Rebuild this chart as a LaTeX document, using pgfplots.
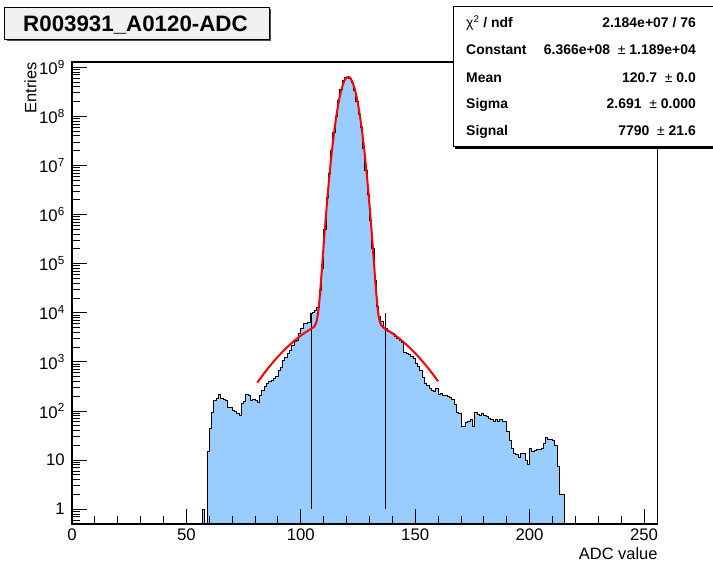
\documentclass[border=0pt]{standalone}
\usepackage{fontspec}
\setmainfont{Liberation Sans}
\usepackage{pgfplots}
\pgfplotsset{compat=1.18}
\definecolor{histfill}{RGB}{153,204,255}
\definecolor{titlefill}{RGB}{240,240,240}
\begin{document}
\begin{tikzpicture}[x=1bp,y=1bp]
\useasboundingbox (-72,-44) rectangle (641,524);
\begin{axis}[
  at={(0,0)}, anchor=south west,
  scale only axis, width=585.7bp, height=462bp,
  xmin=0, xmax=256, ymin=0.5, ymax=1.28e9,
  ymode=log, log origin y=infty,
  axis on top,
  axis line style={line width=1.3bp},
  tick pos=left, tick align=inside,
  major tick length=15bp, minor tick length=8bp,
  tick style={black, line width=0.9bp},
  xtick={0,50,100,150,200,250}, xticklabels={0,50,100,150,200,250},
  minor x tick num=4,
  ytick={1,10,100,1000,1e4,1e5,1e6,1e7,1e8,1e9},
  yticklabels={1,10,10\textsuperscript{2},10\textsuperscript{3},10\textsuperscript{4},10\textsuperscript{5},10\textsuperscript{6},10\textsuperscript{7},10\textsuperscript{8},10\textsuperscript{9}},
  minor ytick={0.6,0.7,0.8,0.9,2,3,4,5,6,7,8,9,20,30,40,50,60,70,80,90,200,300,400,500,600,700,800,900,2000,3000,4000,5000,6000,7000,8000,9000,2e4,3e4,4e4,5e4,6e4,7e4,8e4,9e4,2e5,3e5,4e5,5e5,6e5,7e5,8e5,9e5,2e6,3e6,4e6,5e6,6e6,7e6,8e6,9e6,2e7,3e7,4e7,5e7,6e7,7e7,8e7,9e7,2e8,3e8,4e8,5e8,6e8,7e8,8e8,9e8},
  tick label style={font=\fontsize{16.8}{18}\selectfont, inner sep=0pt},
  xticklabel style={yshift=-5bp}, yticklabel style={xshift=-7bp},
  xlabel={ADC value}, ylabel={Entries},
  label style={font=\fontsize{16.5}{19}\selectfont, inner sep=0pt},
  xlabel style={at={(axis description cs:1,-0.0498)}, anchor=north east},
  ylabel style={at={(axis description cs:-0.0815,1)}, anchor=north east},
]
\addplot[const plot, fill=histfill, draw=black, line width=0.8bp] coordinates {
(56,0.5) (57,1) (58,0.5) (59,15) (60,44) (61,94) (62,167) (63,180) (64,220) (65,180) (66,172) (67,161) (68,118) (69,118) (70,101) (71,97) (72,89) (73,80) (74,142) (75,155) (76,220) (77,212) (78,167) (79,175) (80,161) (81,150) (82,204) (83,266) (84,316) (85,372) (86,400) (87,427) (88,457) (89,500) (90,676) (91,776) (92,1070) (93,1259) (94,1514) (95,1738) (96,2188) (97,2570) (98,2754) (99,3800) (100,4786) (101,6026) (102,6166) (103,6457) (104,9550) (105,10000) (106,11220) (107,12600) (108,28000) (109,80000) (110,5.1e5) (111,2.24e6) (112,6.8e6) (113,2.0e7) (114,4.7e7) (115,1.02e8) (116,2.1e8) (117,3.6e8) (118,5.4e8) (119,6.2e8) (120,6.3e8) (121,5.9e8) (122,5.0e8) (123,3.4e8) (124,2.04e8) (125,1.12e8) (126,6.0e7) (127,2.2e7) (128,7.9e6) (129,2.6e6) (130,7.6e5) (131,2.0e5) (132,4.6e4) (133,1.32e4) (134,8500) (135,6600) (136,5100) (137,4800) (138,4270) (139,3980) (140,3800) (141,3310) (142,2950) (143,2750) (144,2450) (145,1585) (146,1510) (147,1410) (148,1320) (149,1175) (150,933) (151,794) (152,661) (153,479) (154,372) (155,339) (156,288) (157,263) (158,245) (159,288) (160,219) (161,229) (162,209) (163,204) (164,200) (165,191) (166,174) (167,138) (168,95) (169,89) (170,49) (171,49) (172,58) (173,60) (174,68) (175,49) (176,95) (177,87) (178,83) (179,91) (180,83) (181,76) (182,71) (183,68) (184,60) (185,66) (186,60) (187,68) (188,60) (189,60) (190,38) (191,25) (192,17) (193,14) (194,13) (195,11.5) (196,13.5) (197,13.5) (198,10) (199,8) (200,17) (201,15) (202,15.5) (203,16.6) (204,16.6) (205,17.4) (206,22) (207,29) (208,27) (209,26) (210,25) (211,19.5) (212,7.6) (213,2) (214,2) (215,0.5)
} \closedcycle;
\addplot[black, line width=0.8bp] coordinates {(104.55,1) (104.55,1e4)};
\addplot[black, line width=0.8bp] coordinates {(136.85,1) (136.85,1e4)};
\addplot[red, line width=2bp, line join=round] coordinates {
(81,379) (82,440) (84,588) (86,773) (88,1002) (90,1278) (92,1605) (94,1985) (96,2417) (98,2900) (100,3424) (102,3983) (104,4563) (105,4883) (105.5,5075) (106,5357) (106.5,5862) (107,6932) (107.5,9370) (108,14985) (108.5,27750) (109,56000) (109.5,116300) (110,241000) (110.5,489400) (111,966700) (111.5,1.8438e6) (112,3.421e6) (112.5,6.133e6) (113,1.0614e7) (113.5,1.7752e7) (114,2.869e7) (114.5,4.479e7) (115,6.753e7) (115.5,9.840e7) (116,1.3848e8) (116.5,1.8830e8) (117,2.4741e8) (117.5,3.140e8) (118,3.848e8) (118.5,4.557e8) (119,5.213e8) (119.5,5.764e8) (120,6.154e8) (120.5,6.348e8) (120.7,6.366e8) (121,6.326e8) (121.5,6.090e8) (122,5.664e8) (122.5,5.089e8) (123,4.418e8) (123.5,3.704e8) (124,3.001e8) (124.5,2.349e8) (125,1.7756e8) (125.5,1.2970e8) (126,9.153e7) (126.5,6.237e7) (127,4.108e7) (127.5,2.614e7) (128,1.6065e7) (128.5,9.537e6) (129,5.470e6) (129.5,3.031e6) (130,1.629e6) (130.5,845400) (131,425600) (131.5,208600) (132,100450) (132.5,48500) (133,24350) (133.5,13480) (134,8707) (134.5,6646) (135,5732) (136,5032) (137,4680) (138,4387) (140,3813) (142,3263) (144,2750) (146,2282) (148,1865) (150,1501) (152,1190) (154,928.6) (156,713.8) (158,540.1) (160,402.6)
};
\end{axis}
% title box
\fill[black!70] (-65,482.7) rectangle (199,514.7);
\draw[line width=1bp, fill=titlefill] (-67,484.7) rectangle (197,516.7);
\node[font=\bfseries\fontsize{22.4}{24}\selectfont, inner sep=0pt, anchor=base] at (63.5,492.1) {R003931\_A0120-ADC};
% stats box
\fill[black] (383,374.5) rectangle (660,377);
\draw[line width=1bp, fill=white] (381,377) rectangle (660,517);
\begin{scope}[every node/.style={font=\bfseries\fontsize{14}{16}\selectfont, inner sep=0pt}]
\node[anchor=base west] at (394,496) {{\mdseries χ\textsuperscript{2}} / ndf};
\node[anchor=base east] at (624,496) {2.184e+07 / 76};
\node[anchor=base west] at (394,469) {Constant};
\node[anchor=base east] at (624,469) {6.366e+08 \ {\mdseries ±} 1.189e+04};
\node[anchor=base west] at (394,441.5) {Mean};
\node[anchor=base east] at (624,441.5) {120.7 \ {\mdseries ±} 0.0};
\node[anchor=base west] at (394,415) {Sigma};
\node[anchor=base east] at (624,415) {2.691 \ {\mdseries ±} 0.000};
\node[anchor=base west] at (394,388) {Signal};
\node[anchor=base east] at (624,388) {7790 \ {\mdseries ±} 21.6};
\end{scope}
\end{tikzpicture}
\end{document}
